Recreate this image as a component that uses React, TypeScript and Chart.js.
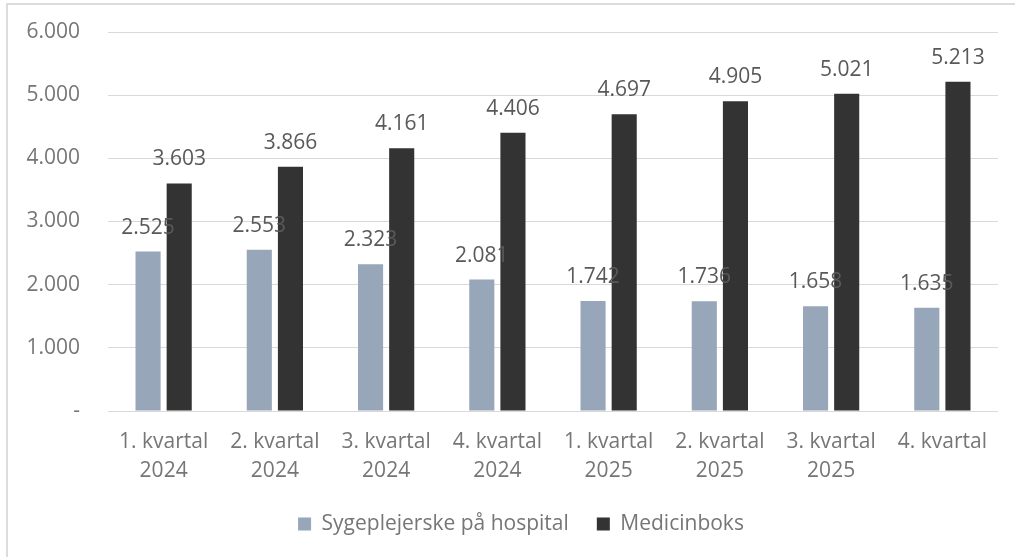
import React, { useEffect, useRef } from "react";
import { Chart, registerables } from "chart.js";

Chart.register(...registerables);

const categories: string[][] = [
  ["1. kvartal", "2024"],
  ["2. kvartal", "2024"],
  ["3. kvartal", "2024"],
  ["4. kvartal", "2024"],
  ["1. kvartal", "2025"],
  ["2. kvartal", "2025"],
  ["3. kvartal", "2025"],
  ["4. kvartal"],
];
const seriesNames = ["Sygeplejerske på hospital", "Medicinboks"];
const nurseValues = [2525, 2553, 2323, 2081, 1742, 1736, 1658, 1635];
const medboxValues = [3603, 3866, 4161, 4406, 4697, 4905, 5021, 5213];
const yTicks = [0, 1000, 2000, 3000, 4000, 5000, 6000];

const FONT = '"Open Sans", "Noto Sans", sans-serif';

const fmt = (v: number): string =>
  Math.round(v)
    .toString()
    .replace(/\B(?=(\d{3})+(?!\d))/g, ".");

const valueLabels = {
  id: "valueLabels",
  afterDatasetsDraw(chart: any) {
    const ctx = chart.ctx;
    ctx.save();
    ctx.font = `21px ${FONT}`;
    ctx.fillStyle = "#595959";
    ctx.textAlign = "center";
    ctx.textBaseline = "alphabetic";
    chart.data.datasets.forEach((ds: any, i: number) => {
      const meta = chart.getDatasetMeta(i);
      meta.data.forEach((bar: any, j: number) => {
        ctx.fillText(fmt(ds.data[j]), bar.x, bar.y - 18);
      });
    });
    ctx.restore();
  },
};

const legendShift = {
  id: "legendShift",
  afterLayout(chart: any) {
    if (chart.legend) {
      chart.legend.left += 9;
      chart.legend.right += 9;
    }
  },
};

export default function App() {
  const ref = useRef<HTMLCanvasElement | null>(null);

  useEffect(() => {
    if (!ref.current) return;
    const chart = new Chart(ref.current, {
      type: "bar",
      data: {
        labels: categories,
        datasets: [
          {
            label: seriesNames[0],
            data: nurseValues,
            backgroundColor: "#97a6b9",
            categoryPercentage: 0.56,
            barPercentage: 0.806,
          },
          {
            label: seriesNames[1],
            data: medboxValues,
            backgroundColor: "#333333",
            categoryPercentage: 0.56,
            barPercentage: 0.806,
          },
        ],
      },
      options: {
        responsive: false,
        animation: false,
        devicePixelRatio: 1,
        layout: { padding: { left: 26, top: 32, right: 17, bottom: 12.5 } },
        plugins: {
          tooltip: { enabled: false },
          legend: {
            position: "bottom",
            labels: {
              boxWidth: 13,
              boxHeight: 13,
              padding: 28,
              color: "#767676",
              font: { family: FONT, size: 21 },
            },
          },
        },
        scales: {
          x: {
            grid: { display: false, drawTicks: false },
            border: { display: false },
            afterFit: (axis: any) => {
              axis.height = 74.5;
            },
            ticks: {
              color: "#767676",
              padding: 16,
              maxRotation: 0,
              autoSkip: false,
              font: { family: FONT, size: 21, lineHeight: 1.4 },
            },
          },
          y: {
            min: 0,
            max: 6000,
            afterBuildTicks: (axis: any) => {
              axis.ticks = yTicks.map((v) => ({ value: v }));
            },
            afterFit: (axis: any) => {
              axis.width = 82;
              axis.paddingTop = 0;
              axis.paddingBottom = 0;
            },
            grid: { color: "#d9d9d9", lineWidth: 1, drawTicks: false },
            border: { display: false },
            ticks: {
              color: "#767676",
              padding: 28,
              font: { family: FONT, size: 21 },
              callback: (v: any) => (Number(v) === 0 ? "-" : fmt(Number(v))),
            },
          },
        },
      },
      plugins: [valueLabels, legendShift],
    });
    return () => chart.destroy();
  }, []);

  return (
    <div
      style={{
        position: "fixed",
        left: 0,
        top: 0,
        width: 1015,
        height: 557,
        overflow: "hidden",
        background: "#ffffff",
      }}
    >
      <div
        style={{
          position: "absolute",
          left: 6,
          top: 3,
          width: 1200,
          height: 800,
          borderLeft: "2px solid #dcdcdc",
          borderTop: "2px solid #dcdcdc",
        }}
      />
      <canvas
        ref={ref}
        width={1015}
        height={557}
        style={{ position: "absolute", left: 0, top: 0, width: 1015, height: 557 }}
      />
    </div>
  );
}
